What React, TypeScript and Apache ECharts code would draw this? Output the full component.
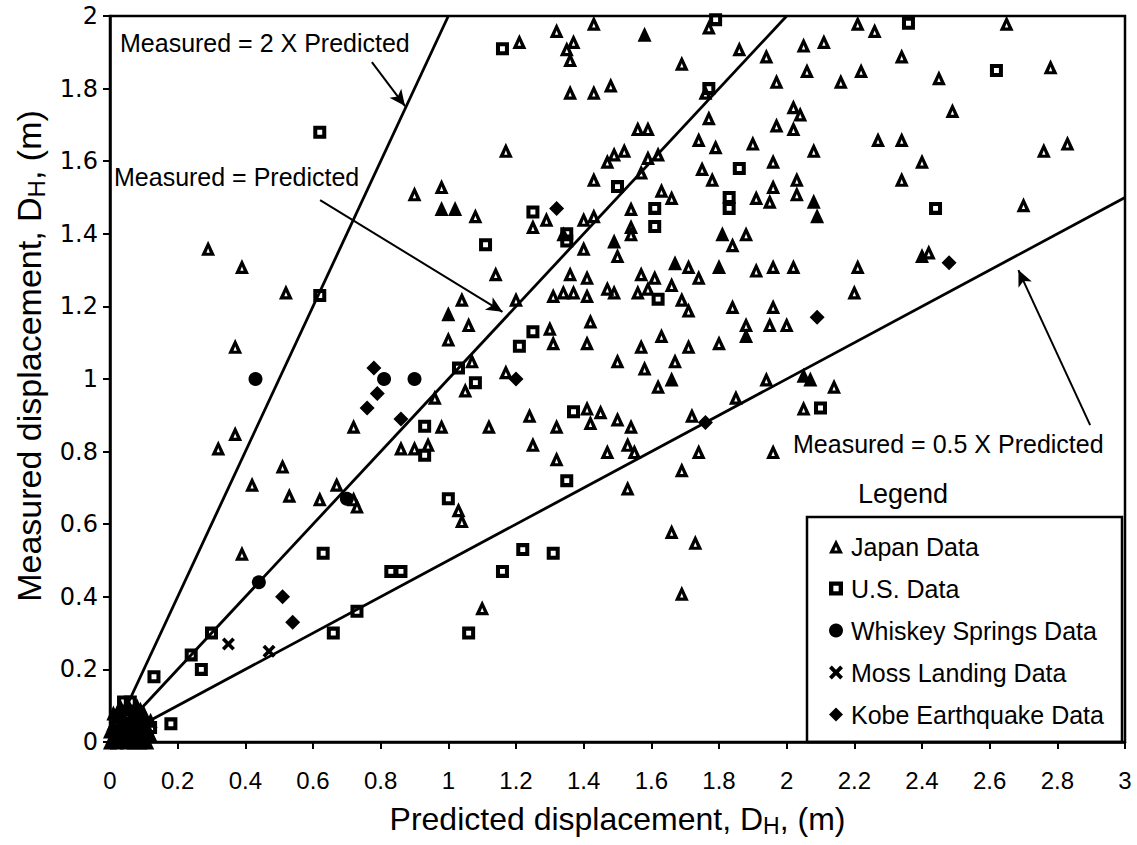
import React, { useEffect, useRef } from "react";
import * as echarts from "echarts";

const FONT = '"Liberation Sans", Arial, Helvetica, sans-serif';

const xTickLabels = ["0", "0.2", "0.4", "0.6", "0.8", "1", "1.2", "1.4", "1.6", "1.8", "2", "2.2", "2.4", "2.6", "2.8", "3"];
const yTickLabels = ["0", "0.2", "0.4", "0.6", "0.8", "1", "1.2", "1.4", "1.6", "1.8", "2"];

const japanData: number[][] = [
  [0.29, 1.36], [0.39, 1.31], [0.52, 1.24], [0.37, 1.09], [0.37, 0.85], [0.32, 0.81], [0.42, 0.71], [0.51, 0.76],
  [0.53, 0.68], [0.62, 0.67], [0.67, 0.71], [0.72, 0.67], [0.73, 0.65], [0.39, 0.52], [0.72, 0.87], [1.10, 0.37],
  [1.69, 0.41], [1.04, 1.22], [1.06, 1.15], [1.20, 1.22], [1.00, 1.11], [1.30, 1.14], [1.31, 1.10], [1.41, 1.10],
  [1.42, 1.16], [1.41, 1.23], [1.31, 1.23], [1.34, 1.24], [1.37, 1.24], [1.47, 1.25], [1.49, 1.24], [1.56, 1.24],
  [1.59, 1.25], [1.66, 1.26], [1.69, 1.22], [1.71, 1.19], [1.84, 1.20], [1.96, 1.20], [1.88, 1.15], [1.95, 1.15],
  [1.80, 1.10], [1.63, 1.12], [1.71, 1.09], [1.57, 1.09], [1.67, 1.05], [1.62, 0.98], [1.58, 1.03], [1.50, 1.05],
  [1.17, 1.02], [1.05, 0.97], [1.07, 1.05], [0.96, 0.95], [0.98, 0.87], [0.86, 0.81], [0.90, 0.81], [0.94, 0.82],
  [1.12, 0.87], [1.24, 0.90], [1.25, 0.82], [1.32, 0.87], [1.32, 0.78], [1.41, 0.92], [1.45, 0.91], [1.42, 0.88],
  [1.50, 0.89], [1.54, 0.87], [1.47, 0.80], [1.53, 0.82], [1.55, 0.80], [1.72, 0.90], [1.74, 0.80], [1.69, 0.75],
  [1.53, 0.70], [1.85, 0.95], [1.94, 1.00], [1.96, 0.80], [1.04, 0.61], [1.03, 0.64], [1.66, 0.58], [1.73, 0.55],
  [1.21, 1.93], [1.32, 1.96], [1.43, 1.98], [1.37, 1.93], [1.35, 1.91], [1.36, 1.88], [1.77, 1.97], [1.86, 1.91],
  [1.94, 1.89], [1.69, 1.87], [1.76, 1.79], [1.97, 1.82], [1.36, 1.79], [1.43, 1.79], [1.48, 1.81], [1.17, 1.63],
  [1.77, 1.72], [1.56, 1.69], [1.59, 1.69], [1.97, 1.70], [1.74, 1.66], [1.79, 1.64], [1.90, 1.65], [1.75, 1.58],
  [1.78, 1.55], [1.96, 1.60], [1.91, 1.50], [1.95, 1.49], [1.96, 1.53], [1.47, 1.60], [1.49, 1.62], [1.52, 1.63],
  [1.59, 1.61], [1.62, 1.62], [1.57, 1.57], [1.43, 1.55], [1.63, 1.52], [1.66, 1.50], [1.54, 1.47], [1.54, 1.42],
  [1.43, 1.45], [1.40, 1.44], [1.40, 1.36], [1.50, 1.34], [1.25, 1.42], [1.29, 1.44], [1.08, 1.45], [0.98, 1.53],
  [0.90, 1.51], [1.14, 1.29], [1.84, 1.37], [1.88, 1.40], [1.71, 1.31], [1.74, 1.28], [1.91, 1.30], [1.57, 1.29],
  [1.61, 1.28], [1.36, 1.29], [1.41, 1.28], [1.34, 1.40], [1.54, 1.40], [2.03, 1.55], [2.03, 1.51], [2.21, 1.98],
  [2.26, 1.96], [2.65, 1.98], [2.05, 1.92], [2.11, 1.93], [2.34, 1.89], [2.78, 1.86], [2.06, 1.85], [2.22, 1.85],
  [2.16, 1.82], [2.45, 1.83], [2.49, 1.74], [2.02, 1.75], [2.04, 1.73], [2.02, 1.69], [2.27, 1.66], [2.34, 1.66],
  [2.08, 1.63], [2.40, 1.60], [2.76, 1.63], [2.83, 1.65], [2.34, 1.55], [2.70, 1.48], [2.21, 1.31], [2.20, 1.24],
  [2.42, 1.35], [1.96, 1.31], [2.02, 1.31], [2.00, 1.15], [2.14, 0.98], [2.05, 0.92],
  [0.03, 0.02], [0.07, 0.03], [0.11, 0.02], [0.02, 0.06], [0.09, 0.06], [0.05, 0.08],
];

const japanFilledData: number[][] = [
  [1.00, 1.18], [1.66, 1.00], [1.58, 1.95], [0.98, 1.47], [1.02, 1.47], [1.81, 1.40], [1.67, 1.32], [1.80, 1.31],
  [2.08, 1.49], [2.09, 1.45], [2.40, 1.34], [2.05, 1.01], [2.07, 1.00], [1.49, 1.38], [1.88, 1.12],
  [0.01, 0.01], [0.04, 0.03], [0.06, 0.02], [0.08, 0.04], [0.10, 0.03], [0.03, 0.05], [0.06, 0.06], [0.12, 0.02],
  [0.00, 0.00], [0.05, 0.00], [0.09, 0.00], [0.02, 0.00], [0.02, 0.03], [0.04, 0.06], [0.06, 0.09], [0.08, 0.10],
  [0.10, 0.08], [0.12, 0.06], [0.11, 0.04], [0.07, 0.07], [0.05, 0.04], [0.03, 0.08], [0.09, 0.09], [0.01, 0.05],
  [0.00, 0.03], [0.11, 0.00], [0.07, 0.00], [0.04, 0.01], [0.08, 0.02], [0.10, 0.01], [0.03, 0.10], [0.01, 0.08],
];

const usData: number[][] = [
  [0.62, 1.68], [0.62, 1.23], [1.16, 1.91], [1.77, 1.80], [1.79, 1.99], [1.86, 1.58], [1.83, 1.50], [1.83, 1.47],
  [1.50, 1.53], [1.61, 1.47], [1.61, 1.42], [1.35, 1.40], [1.35, 1.38], [1.25, 1.46], [1.11, 1.37], [1.62, 1.22],
  [1.21, 1.09], [1.25, 1.13], [1.08, 0.99], [1.03, 1.03], [0.93, 0.87], [0.93, 0.79], [1.37, 0.91], [1.35, 0.72],
  [1.00, 0.67], [1.22, 0.53], [1.31, 0.52], [1.16, 0.47], [0.83, 0.47], [0.86, 0.47], [1.06, 0.30], [0.63, 0.52],
  [0.66, 0.30], [0.73, 0.36], [0.30, 0.30], [0.24, 0.24], [0.27, 0.20], [0.13, 0.18], [0.18, 0.05], [2.36, 1.98],
  [2.62, 1.85], [2.44, 1.47], [2.10, 0.92],
  [0.04, 0.11], [0.06, 0.11], [0.08, 0.08], [0.10, 0.05], [0.12, 0.04], [0.03, 0.07],
];

const whiskeyData: number[][] = [
  [0.43, 1.00], [0.70, 0.67], [0.81, 1.00], [0.90, 1.00], [0.44, 0.44], [0.02, 0.02], [0.05, 0.05],
];

const mossData: number[][] = [
  [0.35, 0.27], [0.47, 0.25], [0.06, 0.04],
];

const kobeData: number[][] = [
  [0.78, 1.03], [0.79, 0.96], [0.76, 0.92], [0.86, 0.89], [0.51, 0.40], [0.54, 0.33], [1.20, 1.00], [1.32, 1.47],
  [2.09, 1.17], [2.48, 1.32], [1.76, 0.88], [0.03, 0.04], [0.08, 0.05],
];

// reference lines (end points)
const lineTwice: number[][] = [[0, 0], [1, 2]];
const lineEqual: number[][] = [[0, 0], [2, 2]];
const lineHalf: number[][] = [[0, 0], [3, 1.5]];

// annotation arrows: [start, end]
const arrows: number[][][] = [
  [[0.774, 1.873], [0.872, 1.752]],
  [[0.621, 1.493], [1.16, 1.185]],
  [[2.897, 0.873], [2.685, 1.300]],
];

const annotations = [
  { text: "Measured = 2 X Predicted", x: 120, y: 43 },
  { text: "Measured = Predicted", x: 114, y: 177 },
  { text: "Measured = 0.5 X Predicted", x: 793, y: 444 },
];

const legendNames = ["Japan Data", "U.S. Data", "Whiskey Springs Data", "Moss Landing Data", "Kobe Earthquake Data"];

const X_SYMBOL = "path://M0,2 L2,0 L5,3 L8,0 L10,2 L7,5 L10,8 L8,10 L5,7 L2,10 L0,8 L3,5 Z";
const TRI_SYMBOL = "path://M5,0 L10,10 L0,10 Z M5,5 L3.8,7.9 L6.2,7.9 Z";
const SQ_SYMBOL = "path://M0,0 L10,0 L10,10 L0,10 Z M3.1,3.1 L3.1,6.9 L6.9,6.9 L6.9,3.1 Z";

export default function App() {
  const ref = useRef<HTMLDivElement>(null);
  useEffect(() => {
    if (!ref.current) return;
    const chart = echarts.init(ref.current, null, { renderer: "svg" });
    const refLine = (data: number[][], withArrows: boolean) => ({
      type: "line",
      data,
      showSymbol: false,
      symbol: "none",
      silent: true,
      lineStyle: { color: "#000", width: 2.8 },
      z: 1,
      legendHoverLink: false,
      markLine: withArrows
        ? {
            silent: true,
            symbol: ["none", "arrow"],
            symbolSize: [11, 16],
            lineStyle: { color: "#000", width: 2, type: "solid" },
            label: { show: false },
            data: arrows.map((a) => [{ coord: a[0] }, { coord: a[1] }]),
          }
        : undefined,
    });
    const solid = { color: "#000", opacity: 1 };
    chart.setOption({
      animation: false,
      backgroundColor: "#fff",
      grid: { left: 110, right: 12, top: 16, bottom: 103, show: true, borderColor: "#000", borderWidth: 2.5 },
      xAxis: {
        type: "value",
        min: 0,
        max: 3,
        interval: 0.2,
        splitLine: { show: false },
        axisLine: { lineStyle: { color: "#000", width: 2.5 } },
        axisTick: { show: true, inside: false, length: 7, lineStyle: { color: "#000", width: 2 } },
        axisLabel: {
          color: "#000",
          fontSize: 24,
          fontFamily: FONT,
          margin: 26,
          formatter: (_v: number, i: number) => xTickLabels[i] ?? "",
        },
        name: "Predicted displacement, D{sub|H}, (m)",
        nameLocation: "middle",
        nameGap: 58,
        nameTextStyle: {
          color: "#000",
          fontSize: 32,
          fontFamily: FONT,
          rich: { sub: { fontSize: 23, fontFamily: FONT, color: "#000", verticalAlign: "bottom", padding: [14, 0, 0, 0] } },
        },
      },
      yAxis: {
        type: "value",
        min: 0,
        max: 2,
        interval: 0.2,
        splitLine: { show: false },
        axisLine: { lineStyle: { color: "#000", width: 2.5 } },
        axisTick: { show: true, inside: false, length: 7, lineStyle: { color: "#000", width: 2 } },
        axisLabel: {
          color: "#000",
          fontSize: 24,
          fontFamily: '"DejaVu Sans", sans-serif',
          margin: 12,
          formatter: (_v: number, i: number) => yTickLabels[i] ?? "",
        },
        name: "Measured displacement, D{sub|H}, (m)",
        nameLocation: "middle",
        nameGap: 56,
        nameTextStyle: {
          color: "#000",
          fontSize: 34,
          fontFamily: FONT,
          padding: [0, 0, 0, 46],
          rich: { sub: { fontSize: 24, fontFamily: FONT, color: "#000", verticalAlign: "bottom", padding: [15, 0, 0, 0] } },
        },
      },
      legend: {
        data: legendNames,
        orient: "vertical",
        left: 824,
        top: 529,
        itemWidth: 14,
        itemHeight: 14,
        itemGap: 17,
        textStyle: { color: "#000", fontSize: 25, fontFamily: FONT, padding: [0, 0, 0, 3] },
        selectedMode: false,
      },
      graphic: [
        ...annotations.map((a) => ({
          type: "text",
          x: a.x,
          y: a.y,
          style: { text: a.text, fontSize: 25, fontFamily: FONT, fill: "#000", verticalAlign: "middle" },
          z: 10,
        })),
        {
          type: "text",
          x: 903,
          y: 494,
          style: { text: "Legend", fontSize: 27, fontFamily: FONT, fill: "#000", align: "center", verticalAlign: "middle" },
          z: 10,
        },
        {
          type: "rect",
          shape: { x: 807, y: 517, width: 315, height: 225 },
          style: { fill: "none", stroke: "#000", lineWidth: 2.5 },
          z: 10,
        },
      ],
      series: [
        { ...refLine(lineTwice, true), name: "ref2" },
        { ...refLine(lineEqual, false), name: "ref1" },
        { ...refLine(lineHalf, false), name: "ref05" },
        {
          name: "Japan Data",
          type: "scatter",
          symbol: TRI_SYMBOL,
          symbolSize: [14, 15],
          itemStyle: solid,
          data: [
            ...japanData,
            ...japanFilledData.map((p) => ({ value: p, symbol: "triangle" })),
          ],
          z: 3,
        },
        {
          name: "U.S. Data",
          type: "scatter",
          symbol: SQ_SYMBOL,
          symbolSize: 13,
          itemStyle: solid,
          data: usData,
          z: 3,
        },
        {
          name: "Whiskey Springs Data",
          type: "scatter",
          symbol: "circle",
          symbolSize: 14,
          itemStyle: solid,
          data: whiskeyData,
          z: 3,
        },
        {
          name: "Moss Landing Data",
          type: "scatter",
          symbol: X_SYMBOL,
          symbolSize: 13,
          itemStyle: solid,
          data: mossData,
          z: 3,
        },
        {
          name: "Kobe Earthquake Data",
          type: "scatter",
          symbol: "diamond",
          symbolSize: 15,
          itemStyle: solid,
          data: kobeData,
          z: 3,
        },
      ],
    });
    return () => chart.dispose();
  }, []);
  return <div ref={ref} style={{ width: 1137, height: 845, position: "absolute", left: 0, top: 0 }} />;
}
